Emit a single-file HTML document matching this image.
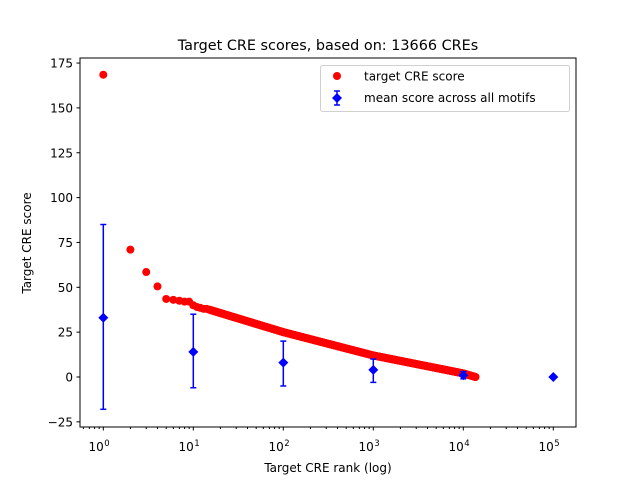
<!DOCTYPE html>
<html><head><meta charset="utf-8"><style>
body{margin:0;background:#fff}
svg{display:block;font-family:"DejaVu Sans","Liberation Sans",sans-serif}
</style></head><body>
<svg id="s" width="640" height="480" xmlns="http://www.w3.org/2000/svg">
<rect width="640" height="480" fill="#fff"/>
<g id="red"></g>
<g id="blue" fill="#0000ff" stroke="#0000ff"></g>
<rect x="80" y="58" width="496" height="369" fill="none" stroke="#000" stroke-width="1"/>
<g id="ticks" stroke="#000" stroke-width="1"></g>
<g id="labels" font-size="12" fill="#000"></g>
<text x="328" y="50" font-size="14.4" text-anchor="middle">Target CRE scores, based on: 13666 CREs</text>
<text x="328" y="472" font-size="12" text-anchor="middle">Target CRE rank (log)</text>
<text x="31" y="243" font-size="12" text-anchor="middle" transform="rotate(-90 31 243)">Target CRE score</text>
<g>
<rect x="320.5" y="65.5" width="249" height="46" rx="2" fill="#fff" stroke="#ccc" opacity="0.9"/>
<circle cx="337" cy="76" r="4" fill="#ff0000"/>
<text x="364" y="80.5" font-size="12">target CRE score</text>
<line x1="337" y1="91" x2="337" y2="105" stroke="#0000ff" stroke-width="1.5"/>
<line x1="334" y1="91" x2="340" y2="91" stroke="#0000ff" stroke-width="1.5"/>
<line x1="334" y1="105" x2="340" y2="105" stroke="#0000ff" stroke-width="1.5"/>
<polygon points="337,93 342,98 337,103 332,98" fill="#0000ff"/>
<text x="364" y="102" font-size="12">mean score across all motifs</text>
</g>
</svg>
<script>
var NS="http://www.w3.org/2000/svg";
function X(r){return 103.3+Math.log10(r)*90;}
function Y(v){return 377-v*1.794;}
function el(p,t,a,txt){var e=document.createElementNS(NS,t);for(var k in a)e.setAttribute(k,a[k]);if(txt!==undefined)e.textContent=txt;document.getElementById(p).appendChild(e);}
var pts=[[1,168.5],[2,71],[3,58.5],[4,50.5],[5,43.5],[6,43],[7,42.5],[8,42],[9,42],[10,40],[11,39],[12,38.5],[13,38],[14,38]];
var knots=[[1.146,38],[2,25],[3,12],[4,2],[4.1357,0]];
function f(l){for(var i=0;i<knots.length-1;i++){var a=knots[i],b=knots[i+1];if(l<=b[0]){return a[1]+(b[1]-a[1])*(l-a[0])/(b[0]-a[0]);}}return 0;}
for(var l=Math.log10(15);l<=4.1357;l+=0.006)pts.push([Math.pow(10,l),f(l)]);
pts.push([13666,0]);
pts.forEach(function(p){el("red","circle",{cx:X(p[0]),cy:Y(p[1]),r:4,fill:"#ff0000"});});
var b=[[1,33,-18,85],[10,14,-6,35],[100,8,-5,20],[1000,4,-3,10],[10000,1,-1,3],[100000,0,0,0]];
b.forEach(function(d){var x=X(d[0]);
 if(d[3]!==d[2]){el("blue","line",{x1:x,x2:x,y1:Y(d[2]),y2:Y(d[3]),"stroke-width":1.5});
 el("blue","line",{x1:x-3,x2:x+3,y1:Y(d[2]),y2:Y(d[2]),"stroke-width":1.5});
 el("blue","line",{x1:x-3,x2:x+3,y1:Y(d[3]),y2:Y(d[3]),"stroke-width":1.5});}
 var y=Y(d[1]);el("blue","polygon",{points:x+","+(y-5)+" "+(x+5)+","+y+" "+x+","+(y+5)+" "+(x-5)+","+y,stroke:"none"});});
for(var v=-25;v<=175;v+=25){var y=Y(v);el("ticks","line",{x1:80,x2:76.5,y1:y,y2:y});
 el("labels","text",{x:73,y:y+4.5,"text-anchor":"end"},String(v).replace("-","\u2212"));}
for(var e=0;e<=5;e++){var x=X(Math.pow(10,e));el("ticks","line",{x1:x,x2:x,y1:427,y2:430.5});
 el("labels","text",{x:x+0.5,y:451,"text-anchor":"end"},"10");
 el("labels","text",{x:x+1,y:446,"font-size":"8.5"},String(e));
 if(e<5)for(var m=2;m<10;m++){var xm=X(m*Math.pow(10,e));if(xm<576)el("ticks","line",{x1:xm,x2:xm,y1:427,y2:429});}}
for(var m=2;m<10;m++){var xm=X(m*0.1);if(xm>80)el("ticks","line",{x1:xm,x2:xm,y1:427,y2:429});}
</script>
</body></html>
